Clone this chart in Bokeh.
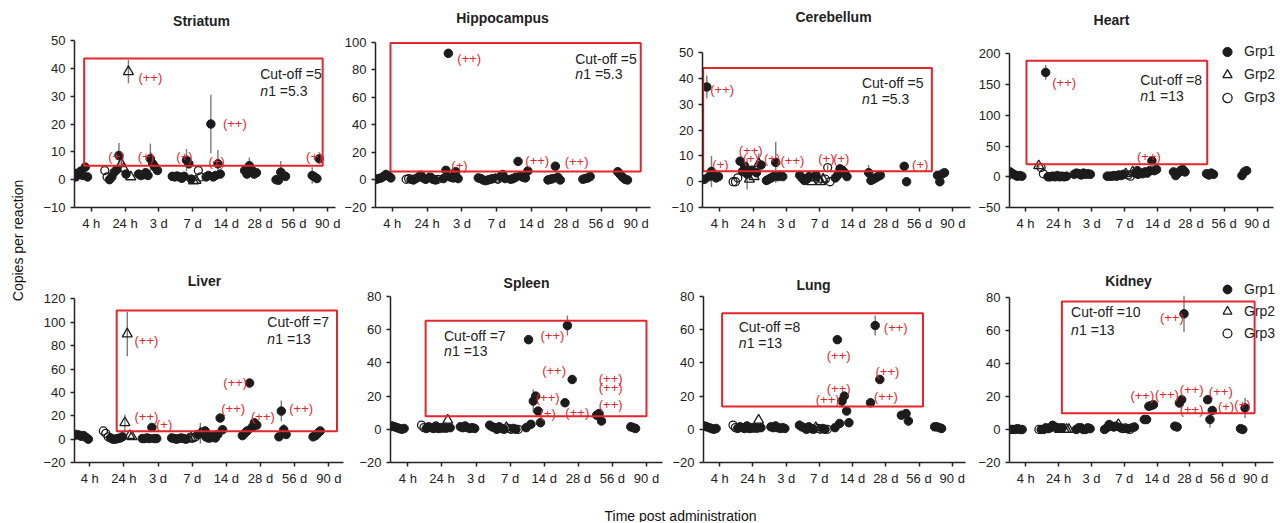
from bokeh.plotting import figure
from bokeh.layouts import row, column
from bokeh.models import Range1d, FixedTicker, Label, Legend, LegendItem
from bokeh.embed import file_html
from bokeh.resources import INLINE
from bokeh.core.properties import value

# ---------------- data ----------------
TIME_LABELS = ["4 h", "24 h", "3 d", "7 d", "14 d", "28 d", "56 d", "90 d"]
GROUPS = ["Grp1", "Grp2", "Grp3"]

# each panel: 8 clusters (one per time point) of values, left to right;
# group code string per cluster: 1/2/3 = Grp1/Grp2/Grp3, "." = empty slot
STRIATUM_VAL = [
    [1.5, 2.5, 1.0, 2.0, 3.0, 1.5, 4.5, 1.0],
    [3.3, 1.0, 0.0, 1.0, 2.7, 3.5, 8.7, 5.7, 4.0, 2.0, 38.8, 1.0],
    [2.0, 1.5, 1.8, 2.5, 1.5, 7.5, 5.7, 4.5, 3.3],
    [1.2, 1.0, 1.3, 1.0, 0.5, 1.2, 7.0, 5.7, 0.2, -0.5, -0.3, 3.3, 1.0],
    [1.0, 1.5, 20.0, 1.0, 1.5, 5.7, 2.0],
    [None, None, 3.3, 2.0, 5.0, 3.5, 2.0, 2.5],
    [None, 0.0, -0.2, 2.7, 1.5, 1.2],
    [None, None, 1.5, 1.0, 0.4, 7.5],
]
STRIATUM_GRP = ["11111111", "331111122122", "111111111", "1111111112233",
                "1111111", "..111111", ".11111", "..1111"]
STRIATUM_ERR = [(0, 1, 3), (1, 6, 4.5), (1, 7, 3), (1, 10, 4.2), (2, 5, 5.5), (3, 6, 4),
                (4, 2, 10.5), (4, 5, 5), (5, 4, 3), (6, 3, 4), (7, 2, 3)]
STRIATUM_SIG = [(2.75, 36.6, "(++)"), (1.74, 8.4, "(+)"), (2.62, 8.4, "(+)"), (3.76, 8.4, "(+)"),
                (5.25, 20.3, "(++)"), (4.71, 6.6, "(+)"), (7.6, 8.4, "(+)")]
STRIATUM_BOX = (0.79, 7.85, 5.0, 43.5)
STRIATUM_NOTE = ("Cut-off =5", "1 =5.3", 6.0, 38.0, 32.0)

HIPPO_VAL = [
    [None, None, 0.5, 1.0, 1.5, 2.5, 4.0, 3.0, 1.5],
    [0.5, 1.0, 0.5, 0.0, 1.0, 2.0, 3.5, 1.5, 0.5, 1.0, 2.0, 0.5, 0.0, 0.5],
    [None, 1.0, 7.0, 92.0, 2.0, 1.5, 6.0, 1.0],
    [None, 1.5, 1.0, 0.0, -0.5, 0.0, 0.5, 1.0, 0.5, 0.5, 2.5, 4.0, 1.0],
    [0.5, 1.0, 2.0, 13.5, 3.0, 2.0, 1.5, 6.5],
    [None, 0.0, 0.5, 1.0, 10.0, 2.0, 0.0],
    [None, 0.5, 1.0, 1.5, 2.5],
    [None, 6.0, 4.0, 2.0, 0.5, 0.0],
]
HIPPO_GRP = ["..1111111", "33111111121113", ".1111111", ".111111123111",
             "11111111", ".111111", ".1111", ".11111"]
HIPPO_ERR = [(4, 3, 2), (4, 7, 2), (7, 1, 2), (1, 5, 2)]
HIPPO_SIG = [(3.21, 88, "(++)"), (2.93, 10.8, "(+)"), (5.16, 14.2, "(++)"), (6.29, 13.7, "(++)")]
HIPPO_BOX = (0.95, 8.13, 6.2, 99.4)
HIPPO_NOTE = ("Cut-off =5", "1 =5.3", 6.25, 88.0, 76.8)

CEREB_VAL = [
    [None, 0.8, 1.0, 36.8, 2.0, 4.0, 2.5, 1.5, 2.0],
    [0.0, 0.0, 1.5, 8.0, 4.0, 6.0, 3.0, 1.0, 4.5, 2.0, 3.5, 7.0, 6.5],
    [0.5, 1.0, 1.5, 2.0, 7.5, 2.0, 2.5, 2.0],
    [2.5, 1.5, 0.5, 1.0, 2.0, 0.0, 1.5, 2.5, 0.5, 0.0, 1.0, 1.0, 5.5, 0.0],
    [None, 1.5, 2.5, 5.0, 4.5, 3.5, 2.0],
    [None, 3.5, 0.5, 1.0, 1.5, 2.0, 2.5],
    [None, None, 6.0, 0.0],
    [None, None, 2.5, 0.0, 3.0, 3.5],
]
CEREB_GRP = [".11111111", "3331111212121", "11111111", "11111221322333",
             ".111111", ".111111", "..11", "..1111"]
CEREB_ERR = [(0, 3, 4.5), (0, 5, 6), (1, 6, 6), (1, 11, 4), (2, 4, 8), (5, 1, 3), (3, 12, 1)]
CEREB_SIG = [(1.07, 35.9, "(++)"), (1.02, 6.8, "(+)"), (1.93, 12.2, "(++)"), (1.93, 9.0, "(+)"),
             (2.57, 9.0, "(+)"), (3.18, 8.1, "(++)"), (4.2, 9.0, "(+)"), (4.65, 9.0, "(+)"),
             (7.02, 6.8, "(+)")]
CEREB_BOX = (0.5, 7.37, 4.1, 44.2)
CEREB_NOTE = ("Cut-off =5", "1 =5.3", 5.27, 38.5, 32.0)

HEART_VAL = [
    [None, 2, 8, 5, 3, 1, 2, 1],
    [18, 15, 5, 170, 0, 0, 1, 0, 2, 0, 1, 0, 1],
    [None, 4, 6, 5, 3, 6, 4, 5, 4],
    [None, 1, 1, 1, 2, 1, 3, 2, 4, 5, 3, 1, 8, 6, 10],
    [4, 6, 5, 8, 6, 10, 26, 10, 12],
    [None, 8, 2, 6, 10, 12, 8],
    [None, 5, 3, 6, 4],
    [None, None, 2, 8, 10],
]
HEART_GRP = [".1111111", "2331111111111", ".11111111", ".11111111233211",
             "111111111", ".111111", ".1111", "..111"]
HEART_ERR = [(1, 0, 5), (1, 3, 12), (4, 6, 4)]
HEART_SIG = [(2.17, 154, "(++)"), (4.73, 33.8, "(++)")]
HEART_BOX = (1.03, 6.49, 20.4, 189)
HEART_NOTE = ("Cut-off =8", "1 =13", 4.47, 158.0, 131.0)

LIVER_VAL = [
    [None, None, 3, 4, 3.5, 2.5, 3, 1.5, 0],
    [7, 5, 2, 1, 0, 0, 0.5, 1, 2, 14, 90, 3, 2],
    [None, None, 0.5, 0.5, 1, 0.5, 10, 0.5, 0.5],
    [1, 0.5, 0, 0.5, 1, 0.5, 0, 0, 1, 1, 2, 4, 5, 6, 7, 2, 1],
    [2, 1, 3, 2, 1, 4, 18, 8],
    [None, 3, 5, 7, 48, 10, 14, 12],
    [None, None, 2, 24, 8, 4],
    [None, None, 2, 3, 5, 7],
]
LIVER_GRP = ["..1111111", "3331111112222", "..1111111", "11111112233123111",
             "11111111", ".1111111", "..1111", "..1111"]
LIVER_ERR = [(1, 9, 7), (1, 10, 19), (3, 12, 9), (6, 3, 9), (6, 4, 5)]
LIVER_SIG = [(2.66, 84.8, "(++)"), (2.66, 19.4, "(++)"), (3.18, 12.4, "(+)"), (5.26, 48.4, "(++)"),
             (5.2, 26.5, "(++)"), (6.07, 19.4, "(++)"), (7.19, 25.9, "(++)")]
LIVER_BOX = (1.79, 8.24, 6.8, 110)
LIVER_NOTE = ("Cut-off =7", "1 =13", 6.2, 100.0, 86.0)

SPLEEN_VAL = [
    [None, 1.5, 2, 1.5, 1, 0.5, 0, 0.5],
    [2.5, 1, 0.5, 1.5, 1, 0.5, 2, 0.5, 1, 0, 1, 5.5, 1],
    [None, None, 1.5, 1, 2, 1, 0.5, 1, 0.5],
    [2.5, 1.5, 1, 0, 1.5, 0.5, 0, 1, 0.5, 0, 0.5, 0, 0],
    [None, 1, 54, 3, 17, 20, 11, 4],
    [None, None, None, 16, 62.5, None, 30],
    [None, None, 8.5, 9.5, 5],
    [None, None, 1.5, 1, 0.5],
]
SPLEEN_GRP = [".1111111", "3311111112121", "..1111111", "1111111233113",
              ".1111111", "...11.1", "..111", "..111"]
SPLEEN_ERR = [(4, 4, 7), (5, 4, 6)]
SPLEEN_SIG = [(5.24, 56.4, "(++)"), (5.29, 35.4, "(++)"), (5.1, 19.4, "(++)"), (5.1, 9.4, "(+)"),
              (5.97, 10.4, "(++)"), (6.95, 30.4, "(++)"), (6.95, 25.0, "(++)"), (6.95, 15.0, "(++)")]
SPLEEN_BOX = (1.52, 8.0, 7.8, 65.4)
SPLEEN_NOTE = ("Cut-off =7", "1 =13", 2.06, 56.4, 47.0)

LUNG_VAL = [
    [None, 1.5, 2, 1.5, 1, 0.5, 0, 0.5],
    [2.5, 1, 0.5, 1.5, 1, 0.5, 2, 0.5, 1, 0, 1, 5.5, 1],
    [None, None, 1.5, 1, 2, 1, 0.5, 1, 0.5],
    [2.5, 1.5, 1, 0, 1.5, 0.5, 0, 1, 0.5, 0, 0.5, 0, 0],
    [None, 1, 54, 3.5, 17, 20, 11, 4],
    [None, None, 16, None, 62.5, None, 30],
    [None, 8.5, None, 9.5, 5],
    [None, 1.5, 1.5, 1, 0.5],
]
LUNG_GRP = [".1111111", "3311111112121", "..1111111", "1111111233113",
            ".1111111", "..1.1.1", ".1.11", ".1111"]
LUNG_ERR = [(4, 4, 4), (5, 4, 6)]
LUNG_SIG = [(6.3, 61.2, "(++)"), (4.58, 44.6, "(++)"), (6.05, 35.1, "(++)"), (4.58, 24.7, "(++)"),
            (4.25, 18.0, "(++)"), (6.0, 19.5, "(++)")]
LUNG_BOX = (1.07, 7.12, 13.7, 69.9)
LUNG_NOTE = ("Cut-off =8", "1 =13", 1.57, 61.8, 52.2)

KIDNEY_VAL = [
    [None, 0, 0, 0, 0, 0.5, 0, 0],
    [0, 0, 0, 1, 0.5, 1, 2.5, 1.5, 1, 0, 1, 0, 0, 0],
    [None, None, 0, 1, 1, 0, 0, 1, 0.5],
    [0, 1, 3, 2, 1.5, 2, 3, 1, 0.5, 1, 0.5, 0, 1, 1.5],
    [None, None, None, 6, 6, 14, 14.5, 15],
    [None, None, 2, 1.5, 16, 18, 70],
    [None, None, 18, 6, 11.5],
    [None, None, 0.5, 0, 13],
]
KIDNEY_GRP = [".1111111", "31111111121222", "..1111111", "11111121331311",
              "...11111", "..11111", "..111", "..111"]
KIDNEY_ERR = [(5, 6, 11), (6, 3, 5), (7, 4, 6)]
KIDNEY_SIG = [(5.45, 68, "(++)"), (4.55, 20.3, "(++)"), (5.3, 21.3, "(++)"), (6.05, 24.3, "(++)"),
              (6.05, 11.8, "(++)"), (6.94, 22.7, "(++)"), (7.1, 13.7, "(+)"), (7.6, 15.3, "(+)")]
KIDNEY_BOX = (2.1, 7.97, 9.8, 77.5)
KIDNEY_NOTE = ("Cut-off =10", "1 =13", 2.38, 70.9, 60.4)

# ---------------- style / layout ----------------
FONT = "Liberation Sans"
RED = "#e3262b"
INK = "#1c1c1c"
SLOT0, SLOT_STEP = -0.6, 0.07


def make_panel(title, vals, grps, errs, sigs, box, note, ylim, ystep, xr, xb_end,
               fig_w, fig_h, bl, br, top_px, bot_px, title_at, legend_at=None, legend_h=23):
    """top_px / bot_px: pixel distance of top tick / bottom of axis from figure top."""
    lo, hi = ylim
    ppu = (bot_px - top_px) / (hi - lo)
    y_end = hi + top_px / ppu          # frame runs up to figure top
    bb = fig_h - bot_px
    p = figure(title=None, toolbar_location=None, output_backend="svg",
               width=fig_w, height=fig_h,
               min_border_left=bl, min_border_right=br, min_border_top=0, min_border_bottom=bb,
               x_range=Range1d(*xr), y_range=Range1d(lo, y_end))
    p.xgrid.visible = False
    p.ygrid.visible = False
    p.outline_line_color = None
    p.background_fill_color = "white"
    p.border_fill_color = "white"

    for ax in (p.xaxis[0], p.yaxis[0]):
        ax.axis_line_width = 1.5
        ax.axis_line_color = "#222222"
        ax.major_tick_line_width = 1.5
        ax.major_tick_line_color = "#222222"
        ax.major_tick_in = 0
        ax.major_tick_out = 4
        ax.minor_tick_line_color = None
        ax.major_label_text_font = FONT
        ax.major_label_text_font_size = "13px"
        ax.major_label_text_color = "#222222"
    p.xaxis.ticker = FixedTicker(ticks=list(range(1, len(TIME_LABELS) + 1)))
    p.xaxis.major_label_overrides = {i + 1: lab for i, lab in enumerate(TIME_LABELS)}
    p.xaxis.major_label_standoff = 4
    p.xaxis.bounds = (xr[0], xb_end)
    p.yaxis.ticker = FixedTicker(ticks=list(range(int(lo), int(hi) + 1, ystep)))
    p.yaxis.major_label_standoff = 5
    p.yaxis.bounds = (lo, hi)

    # point positions
    pts = {g: ([], []) for g in "123"}
    pos = {}
    for i, (cv, cg) in enumerate(zip(vals, grps)):
        for k, (v, g) in enumerate(zip(cv, cg)):
            if v is None or g == ".":
                continue
            x = i + 1 + SLOT0 + SLOT_STEP * k
            pts[g][0].append(x)
            pts[g][1].append(v)
            pos[(i, k)] = (x, v)

    ex, ey0, ey1 = [], [], []
    for (i, k, e) in errs:
        x, v = pos[(i, k)]
        ex.append(x)
        ey0.append(v - e)
        ey1.append(v + e)
    p.segment(x0=ex, y0=ey0, x1=ex, y1=ey1, line_color="#7a7a7a", line_width=1.4)

    r1 = p.scatter(x=pts["1"][0], y=pts["1"][1], marker="circle", size=8.5,
                   fill_color=INK, line_color=INK, line_width=1)
    r3 = p.scatter(x=pts["3"][0], y=pts["3"][1], marker="circle", size=8,
                   fill_color=None, line_color=INK, line_width=1.3)
    r2 = p.scatter(x=pts["2"][0], y=pts["2"][1], marker="triangle", size=10,
                   fill_color=None, line_color=INK, line_width=1.3)

    # cut-off box
    x0, x1, y0, y1 = box
    p.quad(left=[x0], right=[x1], bottom=[y0], top=[y1], fill_color=None,
           line_color=RED, line_width=2)

    # cut-off note
    ctext, ntext, nx, cy, ny = note
    p.text(x=[nx], y=[cy], text=[ctext], text_font=value(FONT), text_font_size="14px",
           text_align="left", text_baseline="middle", text_color="#222222")
    p.text(x=[nx], y=[ny], text=["n"], text_font=value(FONT), text_font_size="14px",
           text_font_style="italic", text_align="left", text_baseline="middle",
           text_color="#222222")
    p.text(x=[nx], y=[ny], text=[ntext], x_offset=8, text_font=value(FONT),
           text_font_size="14px", text_align="left", text_baseline="middle",
           text_color="#222222")

    # significance labels
    p.text(x=[s[0] for s in sigs], y=[s[1] for s in sigs], text=[s[2] for s in sigs],
           text_font=value(FONT), text_font_size="13px", text_align="center",
           text_baseline="middle", text_color=RED)

    # title (screen units from frame bottom-left)
    p.add_layout(Label(x=title_at[0], y=bot_px - title_at[1], x_units="screen", y_units="screen",
                       text=title, text_font=FONT, text_font_size="14px",
                       text_font_style="bold", text_align="center", text_baseline="middle",
                       text_color="#222222"))

    if legend_at is not None:
        leg = Legend(items=[LegendItem(label=GROUPS[0], renderers=[r1]),
                            LegendItem(label=GROUPS[1], renderers=[r2]),
                            LegendItem(label=GROUPS[2], renderers=[r3])],
                     location=(legend_at[0], bot_px - legend_at[1]), orientation="vertical",
                     glyph_width=28, glyph_height=legend_h, label_height=18,
                     label_standoff=3, spacing=0, padding=0, margin=0,
                     border_line_color=None, background_fill_alpha=0,
                     label_text_font=FONT, label_text_font_size="14px",
                     label_text_color="#222222")
        p.add_layout(leg)
    return p


# row 1 figures: 258 px tall; row 2: 236 px tall
f1 = make_panel("Striatum", STRIATUM_VAL, STRIATUM_GRP, STRIATUM_ERR, STRIATUM_SIG, STRIATUM_BOX,
                STRIATUM_NOTE, (-10, 50), 10, (0.504, 8.23), 8.23, 300, 258, 30, 5, 40, 207,
                (127, 20))
f2 = make_panel("Hippocampus", HIPPO_VAL, HIPPO_GRP, HIPPO_ERR, HIPPO_SIG, HIPPO_BOX,
                HIPPO_NOTE, (-20, 100), 20, (0.52, 8.41), 8.41, 325, 258, 35, 15, 42, 208,
                (127, 18))
f3 = make_panel("Cerebellum", CEREB_VAL, CEREB_GRP, CEREB_ERR, CEREB_SIG, CEREB_BOX,
                CEREB_NOTE, (-10, 50), 10, (0.48, 8.53), 8.53, 310, 258, 37, 5, 53, 209,
                (131, 18))
f4 = make_panel("Heart", HEART_VAL, HEART_GRP, HEART_ERR, HEART_SIG, HEART_BOX,
                HEART_NOTE, (-50, 200), 50, (0.517, 8.795), 8.49, 308, 258, 34, 0, 54, 209,
                (102, 21), legend_at=(204, 110.5), legend_h=23)
f5 = make_panel("Liver", LIVER_VAL, LIVER_GRP, LIVER_ERR, LIVER_SIG, LIVER_BOX,
                LIVER_NOTE, (-20, 120), 20, (0.555, 8.43), 8.43, 310, 236, 32, 7, 41, 207,
                (130, 25))
f6 = make_panel("Spleen", SPLEEN_VAL, SPLEEN_GRP, SPLEEN_ERR, SPLEEN_SIG, SPLEEN_BOX,
                SPLEEN_NOTE, (-20, 80), 20, (0.49, 8.47), 8.47, 318, 236, 40, 6, 38, 204,
                (136, 24))
f7 = make_panel("Lung", LUNG_VAL, LUNG_GRP, LUNG_ERR, LUNG_SIG, LUNG_BOX,
                LUNG_NOTE, (-20, 80), 20, (0.51, 8.4), 8.4, 307, 236, 35, 10, 38, 204,
                (110, 26))
f8 = make_panel("Kidney", KIDNEY_VAL, KIDNEY_GRP, KIDNEY_ERR, KIDNEY_SIG, KIDNEY_BOX,
                KIDNEY_NOTE, (-20, 80), 20, (0.505, 8.85), 8.55, 308, 236, 33, 0, 39, 205,
                (119, 23), legend_at=(204, 87), legend_h=22)


def label_fig(w, h, text, x, y, angle):
    p = figure(title=None, toolbar_location=None, output_backend="svg", width=w, height=h,
               x_axis_type=None, y_axis_type=None, min_border=0,
               x_range=Range1d(0, 1), y_range=Range1d(0, 1))
    p.outline_line_color = None
    p.grid.visible = False
    p.add_layout(Label(x=x, y=y, x_units="screen", y_units="screen", text=text,
                       angle=angle, angle_units="deg", text_font=FONT, text_font_size="14px",
                       text_align="center", text_baseline="middle", text_color="#111111"))
    return p


ylab = label_fig(40, 522, "Copies per reaction", 17, 282, 90)
xlab = label_fig(1243, 28, "Time post administration", 640, 7, 0)

layout = row(ylab, column(row(f1, f2, f3, f4), row(f5, f6, f7, f8), xlab))

open("out.html", "w").write(file_html(layout, INLINE))
